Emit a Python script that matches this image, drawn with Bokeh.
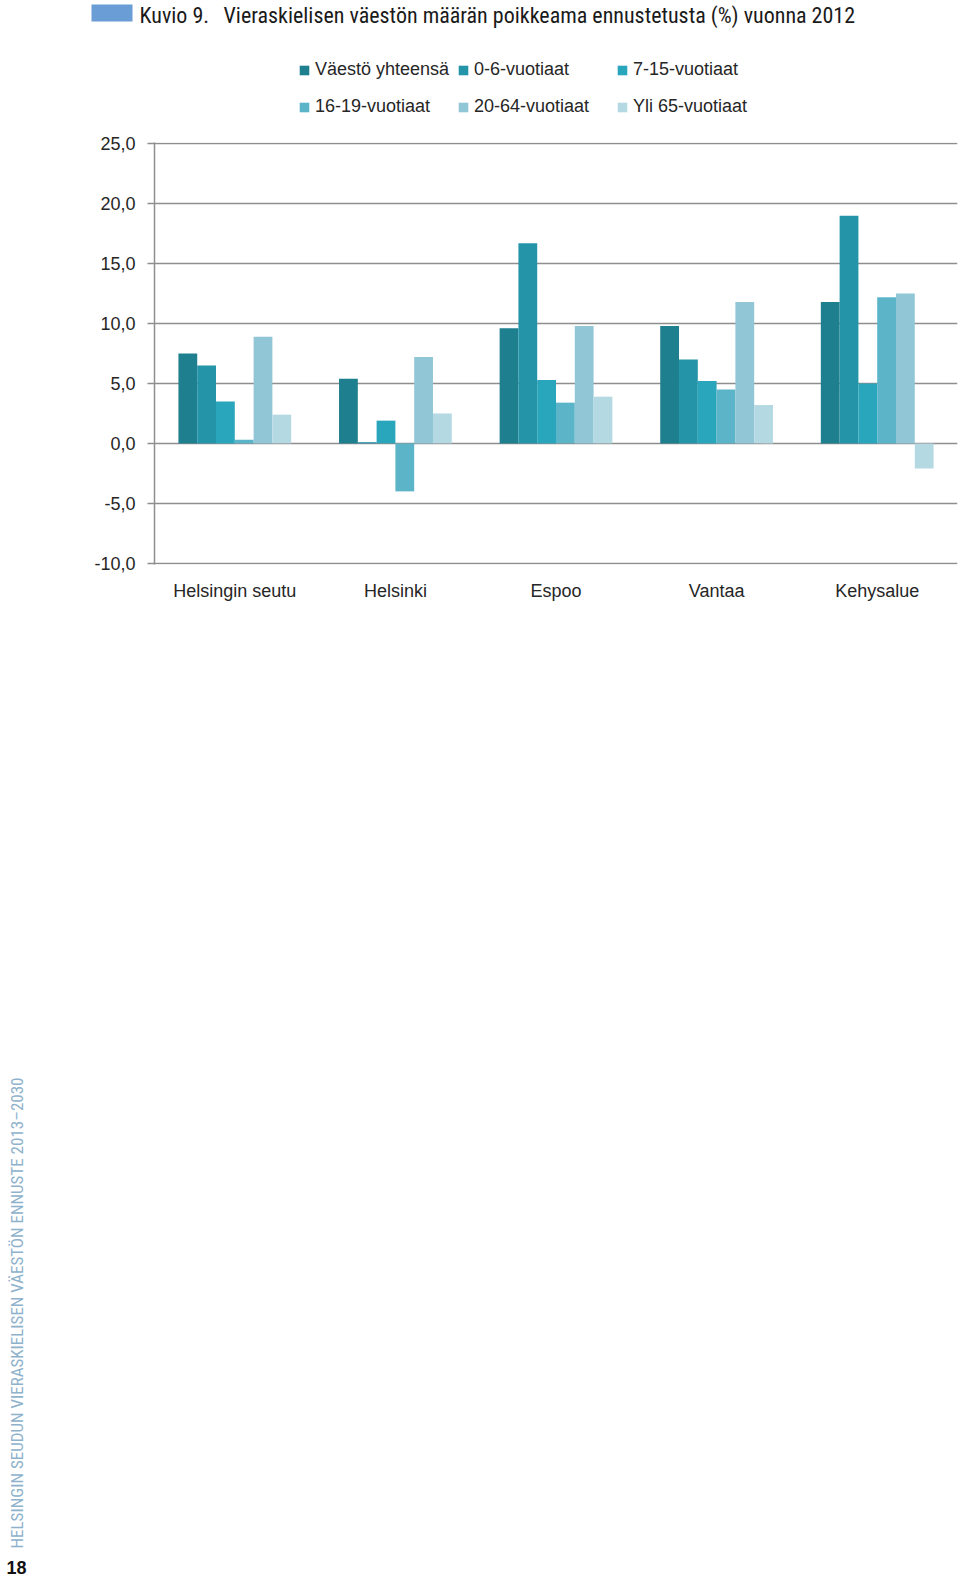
import math
from bokeh.plotting import figure
from bokeh.layouts import column
from bokeh.models import (FactorRange, Range1d, FixedTicker, Legend, LegendItem,
                          Label, BoxAnnotation, ColumnDataSource)
from bokeh.transform import dodge
from bokeh.embed import file_html
from bokeh.resources import INLINE

# ---- data ----
categories = ["Helsingin seutu", "Helsinki", "Espoo", "Vantaa", "Kehysalue"]
series_names = ["Väestö yhteensä", "0-6-vuotiaat", "7-15-vuotiaat",
                "16-19-vuotiaat", "20-64-vuotiaat", "Yli 65-vuotiaat"]
vaesto_yhteensa = [7.5, 5.4, 9.6, 9.8, 11.8]
v0_6 = [6.5, 0.1, 16.7, 7.0, 19.0]
v7_15 = [3.5, 1.9, 5.3, 5.2, 5.0]
v16_19 = [0.3, -4.0, 3.4, 4.5, 12.2]
v20_64 = [8.9, 7.2, 9.8, 11.8, 12.5]
yli65 = [2.4, 2.5, 3.9, 3.2, -2.1]
y_ticks = [-10, -5, 0, 5, 10, 15, 20, 25]
y_tick_labels = ["-10,0", "-5,0", "0,0", "5,0", "10,0", "15,0", "20,0", "25,0"]

title_prefix = "Kuvio 9."
title_text = "Vieraskielisen väestön määrän poikkeama ennustetusta (%) vuonna 2012"
side_text = "HELSINGIN SEUDUN VIERASKIELISEN VÄESTÖN ENNUSTE 2013–2030"
page_number = "18"

colors = ["#1e7f8e", "#2494a8", "#29a6bb", "#5bb4c8", "#91c6d6", "#b5d9e3"]

FONT = "Liberation Sans"
NARROW = "Roboto Condensed, DejaVu Sans Condensed, sans-serif"
W = 960
HEADER_H = 135
CHART_H = 485
FOOTER_H = 958

src = ColumnDataSource(dict(cat=categories, s0=vaesto_yhteensa, s1=v0_6, s2=v7_15,
                            s3=v16_19, s4=v20_64, s5=yli65))


def blank(height, y_top):
    f = figure(width=W, height=height, x_range=Range1d(0, W),
               y_range=Range1d(y_top + height, y_top),
               x_axis_type=None, y_axis_type=None, output_backend="svg",
               toolbar_location=None, min_border=0, frame_align=False)
    f.outline_line_color = None
    f.grid.visible = False
    return f


# ---- header: title + legend ----
hdr = blank(HEADER_H, 0)
hdr.add_layout(BoxAnnotation(left=91, right=132, top=4, bottom=21,
                             fill_color="#6a9cd6", fill_alpha=1, line_color=None))
hdr.add_layout(Label(x=139, y=15, text=title_prefix, text_font=NARROW,
                     text_font_size="22px", text_color="#1a1a1a",
                     text_baseline="alphabetic"))
hdr.add_layout(Label(x=223, y=15, text=title_text, text_font=NARROW,
                     text_font_size="22px", text_color="#1a1a1a",
                     text_baseline="alphabetic"))

# legend proxies: same data, mapped onto a hidden y range so only the legend shows
hdr.extra_y_ranges = {"hidden": Range1d(1000, 2000)}
proxies = []
for i in range(6):
    proxies.append(hdr.vbar(x=f"s{i}", top=f"s{i}", width=1, source=src,
                            fill_color=colors[i], line_color=None,
                            y_range_name="hidden"))
leg_x = [298, 457, 616]
for col in range(3):
    items = [LegendItem(label=series_names[i], renderers=[proxies[i]])
             for i in (col, col + 3)]
    leg = Legend(items=items, location=(leg_x[col], HEADER_H - 117),
                 orientation="vertical", padding=0, margin=0, spacing=16,
                 glyph_width=12, glyph_height=12, label_height=20,
                 label_standoff=5, border_line_color=None,
                 background_fill_alpha=0, label_text_font=FONT,
                 label_text_font_size="18px", label_text_color="#262626")
    hdr.add_layout(leg)

# ---- chart ----
p = figure(x_range=FactorRange(*categories), y_range=Range1d(-10.1, 25.1),
           width=W, height=CHART_H, output_backend="svg", toolbar_location=None,
           min_border_left=154, min_border_right=3, min_border_top=7,
           min_border_bottom=CHART_H - 7 - 422, frame_align=False)
p.outline_line_color = None

p.xgrid.grid_line_color = None
p.ygrid.ticker = FixedTicker(ticks=y_ticks)
p.ygrid.grid_line_color = "#8e8e8e"
p.ygrid.grid_line_width = 1.5

p.yaxis.ticker = FixedTicker(ticks=y_ticks)
p.yaxis.major_label_overrides = {t: l for t, l in zip(y_ticks, y_tick_labels)}
p.yaxis.major_label_text_font = FONT
p.yaxis.major_label_text_font_size = "18px"
p.yaxis.major_label_text_color = "#262626"
p.yaxis.axis_line_color = "#8e8e8e"
p.yaxis.axis_line_width = 1.5
p.yaxis.major_tick_line_color = "#8e8e8e"
p.yaxis.major_tick_line_width = 1.5
p.yaxis.major_tick_out = 7
p.yaxis.major_tick_in = 0
p.yaxis.minor_tick_line_color = None
p.yaxis.major_label_standoff = 12

p.xaxis.axis_line_color = None
p.xaxis.major_tick_line_color = None
p.xaxis.major_tick_out = 0
p.xaxis.major_tick_in = 0
p.xaxis.minor_tick_line_color = None
p.xaxis.major_label_text_font = FONT
p.xaxis.major_label_text_font_size = "18px"
p.xaxis.major_label_text_color = "#262626"
p.xaxis.major_label_standoff = 16

w = 0.117
for i in range(6):
    off = (i - 2.5) * w
    p.vbar(x=dodge("cat", off, range=p.x_range), top=f"s{i}", width=w,
           source=src, fill_color=colors[i], line_color=None)

# ---- footer: side text + page number ----
ftr = blank(FOOTER_H, HEADER_H + CHART_H)
ftr.add_layout(Label(x=16, y=1548, text=side_text, angle=math.pi / 2,
                     text_font=NARROW, text_font_size="17px", text_color="#8fb2cc",
                     text_align="left", text_baseline="alphabetic"))
ftr.add_layout(Label(x=6, y=1567, text=page_number, text_font=FONT,
                     text_font_style="bold", text_font_size="18px",
                     text_color="#111111", text_baseline="alphabetic"))

layout = column(hdr, p, ftr, spacing=0)
open("out.html", "w").write(file_html(layout, INLINE))
